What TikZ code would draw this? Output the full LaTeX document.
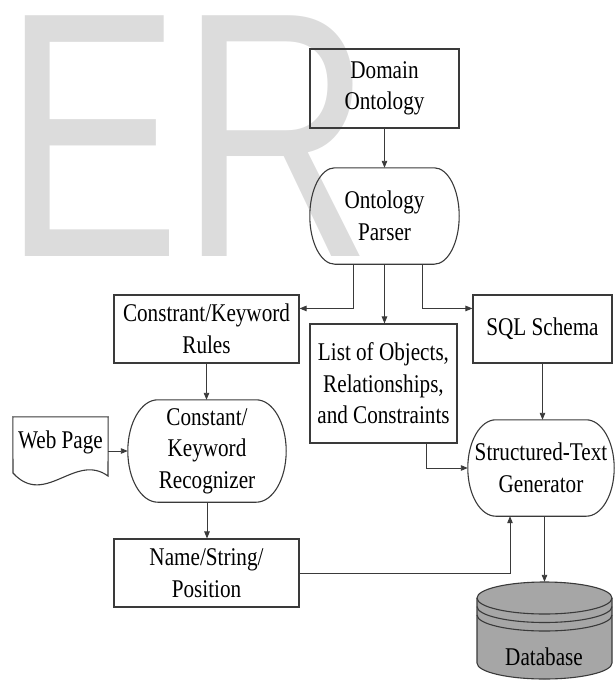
\documentclass[tikz,border=0pt]{standalone}
\usepackage{fontspec}
\setmainfont{Liberation Serif}[FakeStretch=0.83]
\newfontfamily\markfont{Liberation Sans}[FakeStretch=0.76]
\usetikzlibrary{arrows.meta,calc}
\definecolor{inkline}{HTML}{3A3A3A}
\definecolor{markgray}{HTML}{DCDCDC}
\definecolor{dbgray}{HTML}{A6A6A6}

% outline of a box whose left and right ends are half ellipses
\newcommand\stadium[2]{%
  \path[outline] let \p1=(#1.north), \p2=(#1.south), \n1={(\y1-\y2)/2} in
    ([xshift=#2]#1.north west) -- ([xshift=-#2]#1.north east)
    arc[start angle=90,end angle=-90,x radius=#2,y radius=\n1]
    -- ([xshift=#2]#1.south west)
    arc[start angle=270,end angle=90,x radius=#2,y radius=\n1] -- cycle;}

\begin{document}
\begin{tikzpicture}[x=1pt,y=-1pt,
  lbl/.style={font=\fontsize{25.5}{31.5}\selectfont, align=center, inner sep=0pt},
  boxnode/.style={lbl, rectangle, draw=inkline, line width=1.1pt},
  bare/.style={lbl, rectangle},
  outline/.style={draw=inkline, line width=1.1pt},
  arr/.style={draw=inkline, line width=0.9pt, -{Triangle[length=7pt,width=5.5pt]}}]
\useasboundingbox (0,0) rectangle (615,681);

% background lettering
\node[anchor=base west, inner sep=0pt, text=markgray,
      font=\markfont\fontsize{350}{350}\selectfont] (mark) at (3,256) {ER};

% nodes
\node[boxnode, minimum width=149pt, minimum height=79pt] (dom) at (384.5,88.5) {Domain\\Ontology};
\node[bare, minimum width=149pt, minimum height=96pt] (parser) at (384.5,216) {Ontology\\Parser};
\node[boxnode, minimum width=185pt, minimum height=68pt] (rules) at (206.5,329) {Constrant/Keyword\\Rules};
\node[boxnode, minimum width=147pt, minimum height=119pt] (list) at (383.5,383.5) {List of Objects,\\Relationships,\\and Constraints};
\node[boxnode, minimum width=139pt, minimum height=68pt] (sql) at (542.5,329) {SQL Schema};
\node[bare, minimum width=158pt, minimum height=102pt] (recog) at (207,451) {Constant/\\Keyword\\Recognizer};
\node[bare, minimum width=95pt, minimum height=50pt] (web) at (60.5,442) {Web Page};
\node[bare, minimum width=146pt, minimum height=96pt] (st) at (541,468) {Structured-Text\\Generator};
\node[boxnode, minimum width=185pt, minimum height=68pt] (name) at (206.5,573) {Name/String/\\Position};
\node[bare, minimum width=135pt, minimum height=97pt] (db) at (544.5,630.5) {};

% rounded process shapes
\stadium{parser}{25pt}
\stadium{recog}{30pt}
\stadium{st}{28pt}

% document shape
\draw[outline] (web.north west) -- (web.north east) -- (108,476)
  .. controls (75,452) and (45,508) .. (13,473) -- cycle;

% database cylinder
\filldraw[outline, fill=dbgray] (477,598) -- (477,663)
  arc[start angle=180,end angle=360,x radius=67.5pt,y radius=16pt] -- (612,598)
  arc[start angle=0,end angle=180,x radius=67.5pt,y radius=16pt] -- cycle;
\draw[outline] (477,598) arc[start angle=180,end angle=360,x radius=67.5pt,y radius=16pt];
\draw[outline] (477,606.5) arc[start angle=180,end angle=360,x radius=67.5pt,y radius=16pt];
\draw[outline] (477,615) arc[start angle=180,end angle=360,x radius=67.5pt,y radius=16pt];
\node[lbl] (dblabel) at (544,657) {Database};

% connectors
\draw[arr] (dom) -- (parser);
\draw[arr] ([xshift=-31.5pt]parser.south) |- ([yshift=-14pt]rules.north east);
\draw[arr] (parser.south) -- (parser.south |- list.north);
\draw[arr] ([xshift=37.5pt]parser.south) |- ([yshift=-14pt]sql.north west);
\draw[arr] (rules.south) -- (rules.south |- recog.north);
\draw[arr] (web.east |- recog.west) -- (recog.west);
\draw[arr] (recog.south) -- (recog.south |- name.north);
\draw[arr] ([xshift=42.5pt]list.south) |- (st.west);
\draw[arr] (sql.south) -- (sql.south |- st.north);
\draw[arr] (name.east) -| ([xshift=-31pt]st.south);
\draw[arr] (st.south -| db.north) -- (db.north);
\end{tikzpicture}
\end{document}
